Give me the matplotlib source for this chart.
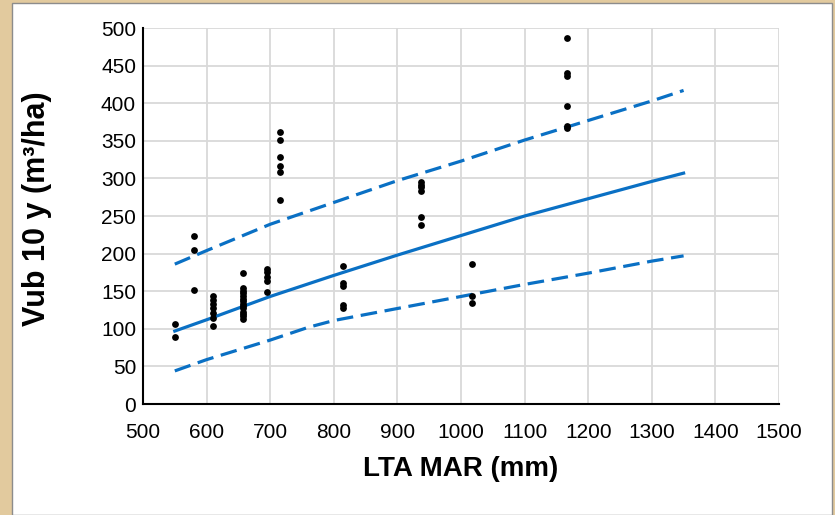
import matplotlib
matplotlib.use("Agg")
import matplotlib.pyplot as plt
from matplotlib.patches import Rectangle

# ---- data ----
mar_x = [550, 550,
         580, 580, 580,
         610, 610, 610, 610, 610, 610, 610,
         657, 657, 657, 657, 657, 657, 657, 657, 657, 657, 657, 657, 657, 657,
         695, 695, 695, 695, 695,
         715, 715, 715, 715, 715, 715,
         815, 815, 815, 815, 815,
         937, 937, 937, 937, 937, 937,
         1018, 1018, 1018,
         1167, 1167, 1167, 1167, 1167, 1167]
vub_y = [106, 89,
         223, 205, 152,
         143, 138, 133, 127, 121, 115, 104,
         174, 154, 150, 147, 143, 140, 137, 133, 130, 127, 123, 120, 117, 113,
         180, 175, 169, 164, 149,
         362, 351, 328, 317, 308, 271,
         184, 161, 157, 132, 128,
         295, 291, 288, 283, 249, 238,
         186, 143, 134,
         487, 440, 436, 396, 370, 367]

line_x = [550, 600, 700, 800, 900, 1000, 1100, 1200, 1300, 1350]
fit_y = [97, 112, 143, 171, 198, 224, 250, 273, 296, 307]
upper_y = [186, 204, 239, 268, 297, 323, 351, 377, 403, 417]
lower_x = [550, 600, 700, 760, 800, 900, 1000, 1100, 1200, 1300, 1350]
lower_y = [44, 59, 85, 102, 111, 127, 143, 159, 174, 190, 197]

x_ticks = list(range(500, 1501, 100))
y_ticks = list(range(0, 501, 50))

plt.rcParams['font.family'] = ['Liberation Sans', 'DejaVu Sans']

W, H = 835, 515
fig = plt.figure(figsize=(W / 100, H / 100), dpi=100)
fig.patch.set_facecolor('#E2CA9E')
fig.patches.append(Rectangle((12 / W, 0), (832 - 12) / W, (H - 3) / H,
                             transform=fig.transFigure, facecolor='white',
                             edgecolor='#8C8C8C', linewidth=1.0, zorder=-10))

ax = fig.add_axes([143 / W, 1 - 404 / H, (779 - 143) / W, (404 - 28) / H])
ax.set_zorder(5)
ax.patch.set_alpha(0)
ax.set_xlim(500, 1500)
ax.set_ylim(0, 500)
ax.set_xticks(x_ticks)
ax.set_yticks(y_ticks)
ax.grid(True, color='#D9D9D9', linewidth=1.3)
ax.set_axisbelow(True)
for s in ['top', 'right']:
    ax.spines[s].set_visible(False)
for s in ['left', 'bottom']:
    ax.spines[s].set_color('black')
    ax.spines[s].set_linewidth(1.5)
ax.tick_params(length=0, labelsize=15)
ax.tick_params(axis='x', pad=14)
ax.tick_params(axis='y', pad=5)

blue = '#0A70C4'
ax.plot(line_x, fit_y, color=blue, linewidth=2.3, zorder=3)
ax.plot(line_x, upper_y, color=blue, linewidth=2.3, dashes=(5.2, 2.4), zorder=3)
ax.plot(lower_x, lower_y, color=blue, linewidth=2.3, dashes=(5.2, 2.4), zorder=3)
ax.scatter(mar_x, vub_y, s=24, color='black', zorder=4, linewidths=0)

ax.set_xlabel('LTA MAR (mm)', fontsize=20, fontweight='bold', labelpad=10)
ax.set_ylabel('Vub 10 y (m³/ha)', fontsize=22, fontweight='bold')
ax.yaxis.set_label_coords(-0.143, 0.52)

fig.savefig('out.png', dpi=100, facecolor=fig.get_facecolor())
